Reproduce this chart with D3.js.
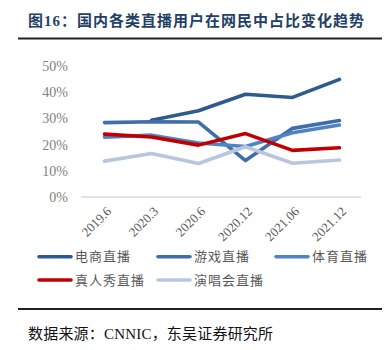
<!DOCTYPE html>
<html><head><meta charset="utf-8">
<script src="https://cdn.jsdelivr.net/npm/d3@7"></script>
<style>
html,body{margin:0;padding:0;background:#fff;}
svg{display:block;}
</style>
</head><body>
<svg id="c" width="391" height="350"></svg>
<script>
const categories = ["2019.6","2020.3","2020.6","2020.12","2021.06","2021.12"];
const seriesNames = ["电商直播","游戏直播","体育直播","真人秀直播","演唱会直播"];
const ecommerce = [null, 29.3, 32.9, 39.2, 38.0, 44.9];
const gaming    = [28.4, 28.7, 28.6, 13.9, 26.2, 29.2];
const sports    = [22.8, 23.6, 20.6, 19.3, 24.5, 27.5];
const reality   = [24.0, 22.9, 19.8, 24.2, 17.8, 18.8];
const concert   = [13.7, 16.6, 12.8, 19.2, 12.9, 14.1];
const yTicks = [0, 10, 20, 30, 40, 50];
const colors = ["#2E5B8E", "#3F6EAA", "#5083C4", "#C00000", "#B9C6E0"];

const seriesValues = [ecommerce, gaming, sports, reality, concert];
const series = seriesNames.map((n, i) => ({name: n, values: seriesValues[i], color: colors[i]}));

const svg = d3.select("#c");
const serif = "'Liberation Serif','Noto Sans CJK SC',serif";

// Title
svg.append("text").attr("x", 28).attr("y", 26)
  .attr("font-family", serif)
  .attr("font-weight", "bold").attr("font-size", 15)
  .attr("letter-spacing", 1.0)
  .attr("fill", "#243F66")
  .text("图16：国内各类直播用户在网民中占比变化趋势");
svg.append("line").attr("x1", 18).attr("x2", 382).attr("y1", 38.5).attr("y2", 38.5)
  .attr("stroke", "#222").attr("stroke-width", 2);

const x = d3.scalePoint().domain(categories).range([104.5, 339.5]);
const y = d3.scaleLinear().domain([0, 50]).range([197, 66]);

// y axis labels
const yAxis = d3.axisLeft(y).tickValues(yTicks).tickFormat(d => d + "%").tickSize(0).tickPadding(0);
const gy = svg.append("g").attr("transform", "translate(68,0)").call(yAxis);
gy.select(".domain").remove();
gy.selectAll("text").attr("font-family", serif).attr("font-size", 14).attr("fill", "#7F7F7F");

// x axis baseline
svg.append("line").attr("x1", 81).attr("x2", 361).attr("y1", y(0)).attr("y2", y(0))
  .attr("stroke", "#D9D9D9").attr("stroke-width", 1.5);

// x labels
const xAxis = d3.axisBottom(x).tickSize(0).tickPadding(0);
const gx = svg.append("g").attr("transform", "translate(0," + y(0) + ")").call(xAxis);
gx.select(".domain").remove();
gx.selectAll("text")
  .attr("font-family", serif).attr("font-size", 13).attr("fill", "#595959")
  .attr("text-anchor", "end").attr("dy", null).attr("y", 0)
  .attr("transform", "translate(4,12) rotate(-45)")
  .attr("dominant-baseline", "central");

// lines
const line = d3.line()
  .defined(d => d.v != null)
  .x(d => x(d.c)).y(d => y(d.v));
svg.append("g").selectAll("path").data(series).join("path")
  .attr("d", s => line(s.values.map((v, i) => ({c: categories[i], v}))))
  .attr("fill", "none").attr("stroke", s => s.color)
  .attr("stroke-width", 3.6).attr("stroke-linejoin", "round").attr("stroke-linecap", "round");

// legend
const legendPos = [[38, 256.7], [157, 256.7], [275, 256.7], [38, 280], [157, 280]];
const lg = svg.append("g").selectAll("g").data(series).join("g")
  .attr("transform", (s, i) => "translate(" + legendPos[i][0] + "," + legendPos[i][1] + ")");
lg.append("line").attr("x1", 1).attr("x2", 33).attr("y1", 0).attr("y2", 0)
  .attr("stroke", s => s.color).attr("stroke-width", 3.6).attr("stroke-linecap", "round");
lg.append("text").attr("x", 37).attr("y", 0).attr("dominant-baseline", "central")
  .attr("font-family", serif).attr("font-size", 13).attr("letter-spacing", 1)
  .attr("fill", "#595959").text(s => s.name);

// bottom rule and source
svg.append("line").attr("x1", 18).attr("x2", 382).attr("y1", 309).attr("y2", 309)
  .attr("stroke", "#222").attr("stroke-width", 2);
svg.append("text").attr("x", 28).attr("y", 339)
  .attr("font-family", serif).attr("font-size", 15).attr("letter-spacing", 0.2)
  .attr("fill", "#111").text("数据来源：CNNIC，东吴证券研究所");
</script>
</body></html>
